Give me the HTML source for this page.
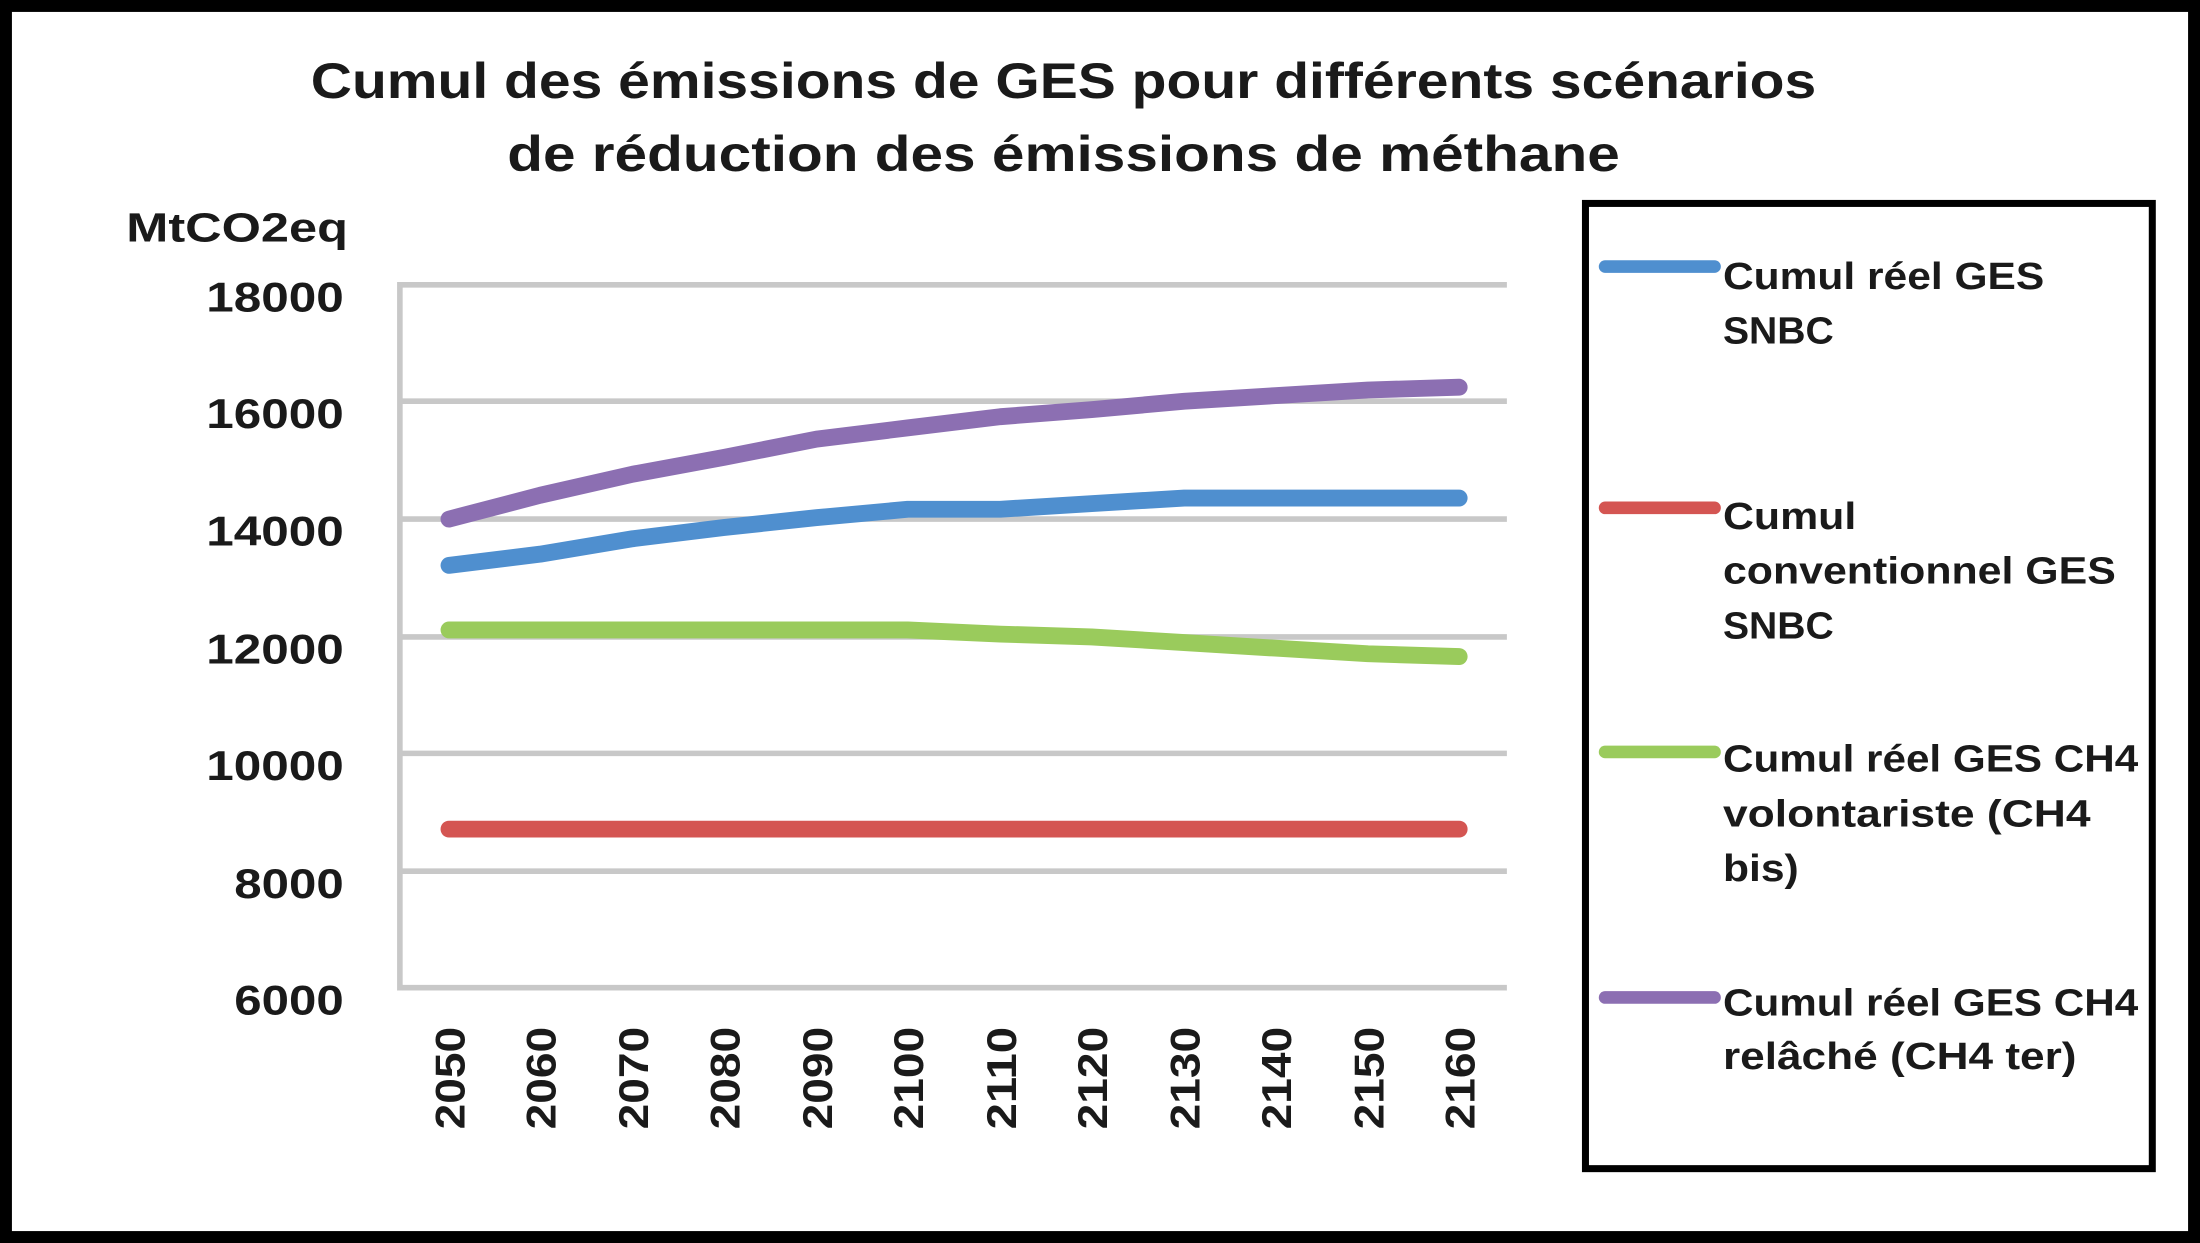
<!DOCTYPE html>
<html><head><meta charset="utf-8"><style>
html,body{margin:0;padding:0;background:#fff;}
svg{display:block;}
text{font-family:"Liberation Sans",sans-serif;font-weight:bold;fill:#1a1a1a;}
</style></head><body>
<svg width="2200" height="1243" viewBox="0 0 1568 886" preserveAspectRatio="none" xmlns="http://www.w3.org/2000/svg">
<rect x="0" y="0" width="1568" height="886" fill="#fff"/>
<rect x="4" y="4" width="1560" height="878" fill="none" stroke="#000" stroke-width="9"/>
<text x="758" y="70" font-size="36" text-anchor="middle" textLength="1073" lengthAdjust="spacingAndGlyphs">Cumul des émissions de GES pour différents scénarios</text>
<text x="758" y="122" font-size="36" text-anchor="middle" textLength="793" lengthAdjust="spacingAndGlyphs">de réduction des émissions de méthane</text>
<text x="248" y="172" font-size="29" text-anchor="end" textLength="158" lengthAdjust="spacingAndGlyphs">MtCO2eq</text>
<g stroke="#c8c8c8" stroke-width="4">
<line x1="285" y1="203" x2="1074" y2="203"/>
<line x1="285" y1="286" x2="1074" y2="286"/>
<line x1="285" y1="370" x2="1074" y2="370"/>
<line x1="285" y1="454" x2="1074" y2="454"/>
<line x1="285" y1="537" x2="1074" y2="537"/>
<line x1="285" y1="621" x2="1074" y2="621"/>
<line x1="285" y1="704" x2="1074" y2="704"/>
<line x1="285" y1="201" x2="285" y2="706"/>
</g>
<g font-size="30" text-anchor="end">
<text x="245" y="222" textLength="98" lengthAdjust="spacingAndGlyphs">18000</text>
<text x="245" y="305" textLength="98" lengthAdjust="spacingAndGlyphs">16000</text>
<text x="245" y="389" textLength="98" lengthAdjust="spacingAndGlyphs">14000</text>
<text x="245" y="473" textLength="98" lengthAdjust="spacingAndGlyphs">12000</text>
<text x="245" y="556" textLength="98" lengthAdjust="spacingAndGlyphs">10000</text>
<text x="245" y="640" textLength="78" lengthAdjust="spacingAndGlyphs">8000</text>
<text x="245" y="723" textLength="78" lengthAdjust="spacingAndGlyphs">6000</text>
</g>
<g font-size="30" text-anchor="end">
<text transform="translate(331,732) rotate(-90)" textLength="73" lengthAdjust="spacingAndGlyphs">2050</text>
<text transform="translate(396,732) rotate(-90)" textLength="73" lengthAdjust="spacingAndGlyphs">2060</text>
<text transform="translate(462,732) rotate(-90)" textLength="73" lengthAdjust="spacingAndGlyphs">2070</text>
<text transform="translate(527,732) rotate(-90)" textLength="73" lengthAdjust="spacingAndGlyphs">2080</text>
<text transform="translate(593,732) rotate(-90)" textLength="73" lengthAdjust="spacingAndGlyphs">2090</text>
<text transform="translate(658,732) rotate(-90)" textLength="73" lengthAdjust="spacingAndGlyphs">2100</text>
<text transform="translate(724,732) rotate(-90)" textLength="73" lengthAdjust="spacingAndGlyphs">2110</text>
<text transform="translate(789,732) rotate(-90)" textLength="73" lengthAdjust="spacingAndGlyphs">2120</text>
<text transform="translate(855,732) rotate(-90)" textLength="73" lengthAdjust="spacingAndGlyphs">2130</text>
<text transform="translate(920,732) rotate(-90)" textLength="73" lengthAdjust="spacingAndGlyphs">2140</text>
<text transform="translate(986,732) rotate(-90)" textLength="73" lengthAdjust="spacingAndGlyphs">2150</text>
<text transform="translate(1051,732) rotate(-90)" textLength="73" lengthAdjust="spacingAndGlyphs">2160</text>
</g>
<g fill="none" stroke-width="12" stroke-linecap="round" stroke-linejoin="round">
<polyline stroke="#d45552" points="320,591 1040,591"/>
<polyline stroke="#9acb5c" points="320,449 385,449 451,449 516,449 582,449 647,449 713,452 778,454 844,458 909,462 975,466 1040,468"/>
<polyline stroke="#4f8fcf" points="320,403 385,395 451,384 516,376 582,369 647,363 713,363 778,359 844,355 909,355 975,355 1040,355"/>
<polyline stroke="#8c6fb2" points="320,370 385,353 451,338 516,326 582,313 647,305 713,297 778,292 844,286 909,282 975,278 1040,276"/>
</g>
<rect x="1130" y="145" width="404" height="688" fill="#fff" stroke="#000" stroke-width="5"/>
<g stroke-width="9" stroke-linecap="round">
<line x1="1144" y1="190" x2="1222" y2="190" stroke="#4f8fcf"/>
<line x1="1144" y1="362" x2="1222" y2="362" stroke="#d45552"/>
<line x1="1144" y1="536" x2="1222" y2="536" stroke="#9acb5c"/>
<line x1="1144" y1="711" x2="1222" y2="711" stroke="#8c6fb2"/>
</g>
<g font-size="27">
<text x="1228" y="206" textLength="229" lengthAdjust="spacingAndGlyphs">Cumul réel GES</text>
<text x="1228" y="245" textLength="79" lengthAdjust="spacingAndGlyphs">SNBC</text>
<text x="1228" y="377" textLength="95" lengthAdjust="spacingAndGlyphs">Cumul</text>
<text x="1228" y="416" textLength="280" lengthAdjust="spacingAndGlyphs">conventionnel GES</text>
<text x="1228" y="455" textLength="79" lengthAdjust="spacingAndGlyphs">SNBC</text>
<text x="1228" y="550" textLength="296" lengthAdjust="spacingAndGlyphs">Cumul réel GES CH4</text>
<text x="1228" y="589" textLength="262" lengthAdjust="spacingAndGlyphs">volontariste (CH4</text>
<text x="1228" y="628" textLength="54" lengthAdjust="spacingAndGlyphs">bis)</text>
<text x="1228" y="724" textLength="296" lengthAdjust="spacingAndGlyphs">Cumul réel GES CH4</text>
<text x="1228" y="762" textLength="252" lengthAdjust="spacingAndGlyphs">relâché (CH4 ter)</text>
</g>
</svg>
</body></html>
